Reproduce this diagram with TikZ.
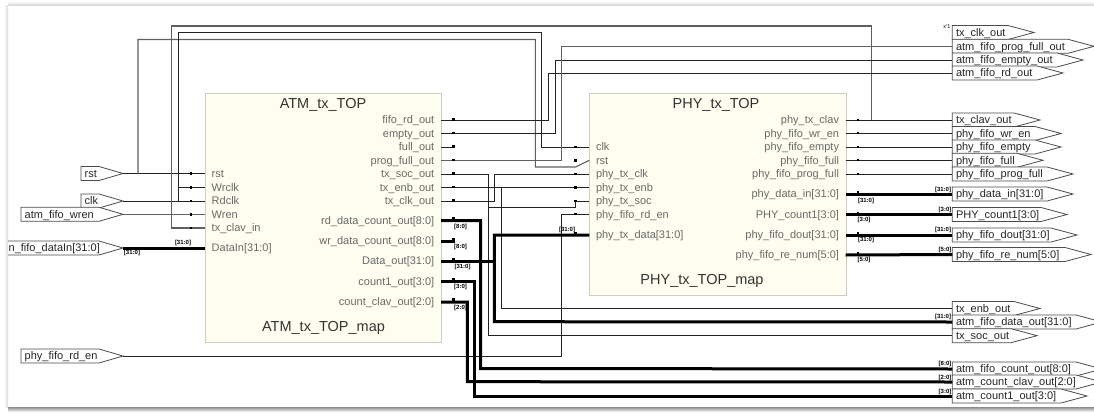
\documentclass[tikz,border=0pt]{standalone}
\usepackage{fontspec}
\setmainfont{Liberation Sans}
\definecolor{boxfill}{RGB}{254,254,240}
\definecolor{boxline}{RGB}{205,205,195}
\definecolor{pintext}{RGB}{105,105,105}
\definecolor{wirec}{RGB}{35,35,35}
\definecolor{wiregray}{RGB}{95,95,95}
\tikzset{
  wire/.style={draw=wirec,line width=0.9pt},
  graywire/.style={draw=wiregray,line width=1.1pt},
  bus/.style={draw=black,line width=3pt,line cap=butt},
  block/.style={draw=boxline,fill=boxfill,line width=1pt},
  pinL/.style={anchor=base west,inner sep=0pt,text=pintext,font=\fontsize{11}{12}\selectfont},
  pinR/.style={anchor=base east,inner sep=0pt,text=pintext,font=\fontsize{11}{12}\selectfont},
  title/.style={inner sep=0pt,text=black!80,font=\fontsize{14.5}{16}\selectfont},
  porttext/.style={anchor=base west,inner sep=0pt,text=black!85,font=\fontsize{11}{12}\selectfont},
  buslabel/.style={inner sep=0pt,text=black,font=\fontsize{6}{6}\selectfont\bfseries},
  portline/.style={draw=black!70,line width=0.8pt,fill=white},
  dot/.style={fill=black,inner sep=0pt,minimum size=2.4pt,shape=rectangle},
}
% name, left x, y, tip x, text
\newcommand\outport[5]{%
  \draw[portline] (#2,#3-7) -- ({#4-26},#3-7) -- (#4,#3) -- ({#4-26},#3+7) -- (#2,#3+7) -- cycle;
  \node[porttext] at ({#2+3.5},#3+3.8) {#5};
  \coordinate (#1) at (#2,#3);}
% name, left x, y, text
\newcommand\inport[4]{%
  \draw[portline] (#2,#3-7) -- (99,#3-7) -- (123,#3) -- (99,#3+7) -- (#2,#3+7) -- cycle;
  \node[porttext] at ({#2+3.5},#3+3.8) {#4};
  \coordinate (#1) at (123,#3);}
\newcommand\pinL[4]{\coordinate (#1) at (#2,#3);\node[pinL] at ({#2+6.5},#3+3.8) {#4};}
\newcommand\pinR[4]{\coordinate (#1) at (#2,#3);\node[pinR] at ({#2-6.5},#3+3.8) {#4};}
\begin{document}
\begin{tikzpicture}[x=1pt,y=-1pt]
\useasboundingbox (0,0) rectangle (1094,412);
\fill[white] (0,0) rectangle (1094,412);
% panel shadow
\shade[top color=white,bottom color=black!18] (8,1) rectangle (1094,6);
\shade[left color=white,right color=black!15] (4,6) rectangle (8,407);
\shade[top color=black!45,bottom color=white] (8,407) rectangle (1094,412);
% blocks
\node[block,minimum width=236pt,minimum height=249pt,inner sep=0pt,anchor=north west] (atm) at (205,93) {};
\node[block,minimum width=256.5pt,minimum height=202pt,inner sep=0pt,anchor=north west] (phy) at (589.3,93) {};
\node[title] (atmt) at (323,105) {ATM\_tx\_TOP};
\node[title] (atmm) at (323.5,328) {ATM\_tx\_TOP\_map};
\node[title] (phyt) at (716,105) {PHY\_tx\_TOP};
\node[title] (phym) at (702,280.5) {PHY\_tx\_TOP\_map};
% ATM pins
\pinL{a-rst}{205}{173.5}{rst}
\pinL{a-wr}{205}{187.5}{Wrclk}
\pinL{a-rd}{205}{201}{Rdclk}
\pinL{a-wren}{205}{214.3}{Wren}
\pinL{a-clav}{205}{228}{tx\_clav\_in}
\pinL{a-din}{205}{248}{DataIn[31:0]}
\pinR{a-frd}{441}{120}{fifo\_rd\_out}
\pinR{a-emp}{441}{133.5}{empty\_out}
\pinR{a-full}{441}{147}{full\_out}
\pinR{a-prog}{441}{160.3}{prog\_full\_out}
\pinR{a-soc}{441}{174}{tx\_soc\_out}
\pinR{a-enb}{441}{187.5}{tx\_enb\_out}
\pinR{a-clk}{441}{201}{tx\_clk\_out}
\pinR{a-rdc}{441}{220.7}{rd\_data\_count\_out[8:0]}
\pinR{a-wrc}{441}{241}{wr\_data\_count\_out[8:0]}
\pinR{a-dout}{441}{261}{Data\_out[31:0]}
\pinR{a-c1}{441}{281.3}{count1\_out[3:0]}
\pinR{a-cc}{441}{302}{count\_clav\_out[2:0]}
% PHY pins
\pinL{p-clk}{589.3}{147}{clk}
\pinL{p-rst}{589.3}{160.3}{rst}
\pinL{p-tclk}{589.3}{174}{phy\_tx\_clk}
\pinL{p-tenb}{589.3}{187.5}{phy\_tx\_enb}
\pinL{p-tsoc}{589.3}{201}{phy\_tx\_soc}
\pinL{p-rden}{589.3}{214.5}{phy\_fifo\_rd\_en}
\pinL{p-tdat}{589.3}{235}{phy\_tx\_data[31:0]}
\pinR{p-clav}{845.7}{120}{phy\_tx\_clav}
\pinR{p-wren}{845.7}{133.5}{phy\_fifo\_wr\_en}
\pinR{p-emp}{845.7}{147}{phy\_fifo\_empty}
\pinR{p-full}{845.7}{160.3}{phy\_fifo\_full}
\pinR{p-prog}{845.7}{174}{phy\_fifo\_prog\_full}
\pinR{p-din}{845.7}{194}{phy\_data\_in[31:0]}
\pinR{p-cnt}{845.7}{214.5}{PHY\_count1[3:0]}
\pinR{p-dout}{845.7}{235}{phy\_fifo\_dout[31:0]}
\pinR{p-re}{845.7}{255}{phy\_fifo\_re\_num[5:0]}
% input ports
\inport{i-rst}{81}{173.5}{rst}
\inport{i-clk}{81}{201}{clk}
\inport{i-wren}{21}{214.3}{atm\_fifo\_wren}
\inport{i-din}{5}{248}{n\_fifo\_dataIn[31:0]}
\inport{i-rden}{21}{356}{phy\_fifo\_rd\_en}
% output ports
\outport{o-clk}{952.3}{32.5}{1034}{tx\_clk\_out}
\outport{o-prog}{952.3}{46.3}{1094}{atm\_fifo\_prog\_full\_out}
\outport{o-emp}{952.3}{60}{1083}{atm\_fifo\_empty\_out}
\outport{o-rd}{952.3}{73}{1063}{atm\_fifo\_rd\_out}
\outport{o-clav}{952.3}{120}{1040}{tx\_clav\_out}
\outport{o-wren}{952.3}{133.5}{1061}{phy\_fifo\_wr\_en}
\outport{o-pemp}{952.3}{147}{1061}{phy\_fifo\_empty}
\outport{o-full}{952.3}{160.3}{1043}{phy\_fifo\_full}
\outport{o-pprog}{952.3}{174}{1073}{phy\_fifo\_prog\_full}
\outport{o-din}{952.3}{194}{1073}{phy\_data\_in[31:0]}
\outport{o-cnt}{952.3}{214.5}{1067}{PHY\_count1[3:0]}
\outport{o-dout}{952.3}{235}{1077}{phy\_fifo\_dout[31:0]}
\outport{o-re}{952.3}{254.5}{1091}{phy\_fifo\_re\_num[5:0]}
\outport{o-enb}{952.3}{308.5}{1040}{tx\_enb\_out}
\outport{o-data}{952.3}{322}{1102}{atm\_fifo\_data\_out[31:0]}
\outport{o-soc}{952.3}{335.7}{1037}{tx\_soc\_out}
\outport{o-count}{952.3}{369}{1102}{atm\_fifo\_count\_out[8:0]}
\outport{o-cclav}{952.3}{382}{1102}{atm\_count\_clav\_out[2:0]}
\outport{o-c1}{952.3}{396}{1087}{atm\_count1\_out[3:0]}
\node[inner sep=0pt,font=\fontsize{5.5}{6}\selectfont] (xmark) at (947,27) {x'1};
% single-bit wires
\draw[wire] (i-rst) -- (a-rst);
\draw[wire] (i-clk) -- (a-rd);
\draw[graywire] (i-wren) -- (a-wren);
\draw[graywire] (a-clav) -- (171.7,228) |- (871.7,26) -- (871.7,120);
\draw[graywire] (138,173.5) |- (535.3,39.5) |- (575.5,167) -- (p-rst);
\draw[wire] (178.5,201) |- (541.3,32.5) |- (p-clk);
\draw[wire] (178.5,187.5) -- (a-wr);
\draw[wire] (a-frd) -| (548.7,73) -- (o-rd);
\draw[wire] (a-emp) -| (555.3,60) -- (o-emp);
\draw[graywire] (a-prog) -| (561.7,46.3) -- (o-prog);
\draw[wire] (a-full) -- (454,147);
\draw[wire] (a-soc) -| (488.7,335.7) -- (o-soc);
\draw[wire] (488.7,207) -| (575.5,201) -- (p-tsoc);
\draw[wire] (a-enb) -- (p-tenb);
\draw[wire] (501.3,187.5) |- (o-enb);
\draw[wire] (a-clk) -| (494.3,174) -- (p-tclk);
\draw[wire] (i-rden) -| (561.7,214.5) -- (p-rden);
\draw[wire] (p-clav) -- (o-clav);
\draw[wire] (p-wren) -- (o-wren);
\draw[wire] (p-emp) -- (o-pemp);
\draw[wire] (p-full) -- (o-full);
\draw[wire] (p-prog) -- (o-pprog);
% buses
\draw[bus] (i-din) -- (a-din);
\draw[bus] (a-rdc) -| (480.7,368.5) -- (o-count);
\draw[bus] (a-wrc) -- (455,241);
\draw[bus] (a-dout) -- (494.3,261);
\draw[bus] (p-tdat) -| (494.3,321.7) -- (o-data);
\draw[bus] (a-c1) -| (474,396) -- (o-c1);
\draw[bus] (a-cc) -| (467.3,381.7) -- (o-cclav);
\draw[bus] (p-din) -- (o-din);
\draw[bus] (p-cnt) -- (o-cnt);
\draw[bus] (p-dout) -- (o-dout);
\draw[bus] (p-re) -- (o-re);
% pin dots
\foreach \y/\n in {173.5/a,187.5/b,201/c,214.3/d,228/e,248/f}
  \node[dot] (dl\n) at (191,\y) {};
\foreach \y/\n in {120/a,133.5/b,147/c,160.3/d,174/e,187.5/f,201/g,219/h,239.5/i,259.5/j,279.5/k,300/l}
  \node[dot] (dr\n) at (453.5,\y-0.4) {};
\foreach \y/\n in {147/a,160.3/b,174/c,187.5/d,201/e,214/f,233/g}
  \node[dot] (dp\n) at (575.5,\y) {};
\foreach \y/\n in {120/a,133.5/b,147/c,160.3/d,174/e,192.5/f,213/g,233.5/h,253.5/i}
  \node[dot] (dq\n) at (858,\y-0.3) {};
% bus labels
\node[buslabel] (l1) at (132,253) {[31:0]};
\node[buslabel] (l2) at (183,243) {[31:0]};
\node[buslabel] (l3) at (460.5,226.7) {[8:0]};
\node[buslabel] (l4) at (460.5,247) {[8:0]};
\node[buslabel] (l5) at (462.5,267) {[31:0]};
\node[buslabel] (l6) at (460.5,287) {[3:0]};
\node[buslabel] (l7) at (460.5,307.5) {[2:0]};
\node[buslabel] (l8) at (567,230) {[31:0]};
\node[buslabel] (l9) at (866,200.5) {[31:0]};
\node[buslabel] (l10) at (864,220) {[3:0]};
\node[buslabel] (l11) at (866,240) {[31:0]};
\node[buslabel] (l12) at (864,260) {[5:0]};
\node[buslabel] (r1) at (943,189.5) {[31:0]};
\node[buslabel] (r2) at (945,210) {[3:0]};
\node[buslabel] (r3) at (943,230) {[31:0]};
\node[buslabel] (r4) at (945,250) {[5:0]};
\node[buslabel] (r5) at (943,317) {[31:0]};
\node[buslabel] (r6) at (945,363.5) {[8:0]};
\node[buslabel] (r7) at (945,378) {[2:0]};
\node[buslabel] (r8) at (945,392) {[3:0]};
% clip of panel at left
\fill[white] (0,238) rectangle (4,258);
\shade[left color=white,right color=black!15] (4,238) rectangle (8,258);
\end{tikzpicture}
\end{document}
